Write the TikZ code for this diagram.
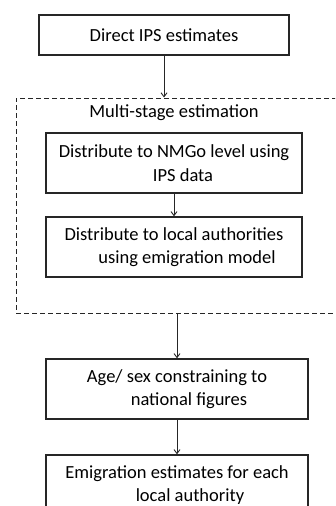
\documentclass[tikz,border=0pt]{standalone}
\usepackage{fontspec}
\setmainfont{Carlito}
\usepackage{tikz}
\usetikzlibrary{arrows.meta}
\usetikzlibrary{positioning}

\begin{document}
\begin{tikzpicture}[x=1pt, y=-1pt,
        stepbox/.style={draw=black!85, line width=1.4pt, align=center,
            font=\fontsize{18.5}{23.5}\selectfont, inner sep=0pt, minimum height=60pt},
        flow/.style={-{Straight Barb[length=4pt,width=6pt]}, line width=0.9pt, black!85}]

        \clip (0,0) rectangle (335,506);

        \node[stepbox, minimum width=250pt, minimum height=40pt] (ips) at (164, 35) {Direct IPS estimates};

        \node[draw=black!85, line width=1pt, dash pattern=on 5pt off 3pt,
        minimum width=329pt, minimum height=215pt] (stage) at (180.5, 205.5) {};
        \node[font=\fontsize{18.5}{23.5}\selectfont] (stagelabel) at (174, 113) {Multi-stage estimation};

        \node[stepbox, minimum width=256pt] (nmgo) at (174, 163) {Distribute to NMGo level using\\ \hspace*{18pt}IPS data};
        \node[stepbox, minimum width=256pt] (local) at (174, 247) {Distribute to local authorities\\ \hspace*{26pt}using emigration model};

        \node[stepbox, minimum width=262pt] (agesex) at (177, 389) {Age/ sex constraining to\\ \hspace*{24pt}national figures};
        \node[stepbox, minimum width=262pt] (final) at (177, 485) {Emigration estimates for each\\ \hspace*{26pt}local authority};

        \draw [flow] (ips.south) -- (ips.south |- stage.north);
        \draw [flow] (nmgo.south) -- (local.north);
        \draw [flow] (stage.south -| agesex.north) -- (agesex.north);
        \draw [flow] (agesex.south) -- (final.north);

    \end{tikzpicture}
\end{document}
